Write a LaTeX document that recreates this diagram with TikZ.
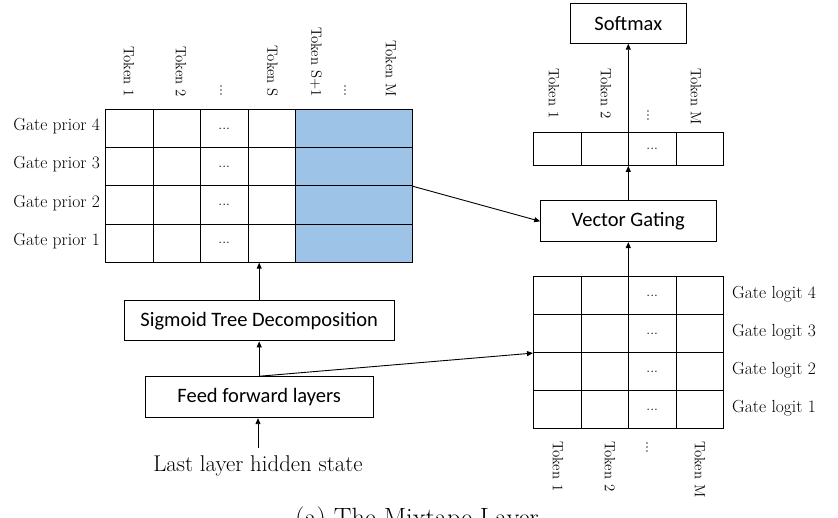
\documentclass[tikz,border=0pt]{standalone}
\usepackage{fontspec}
\newfontfamily\carl{Carlito}
\usetikzlibrary{arrows.meta}
\definecolor{cellblue}{RGB}{157,195,230}
\begin{document}
\begin{tikzpicture}[x=1pt,y=-1pt,
  ln/.style={line width=0.9pt},
  cell/.style={draw, ln, fill=white, inner sep=0, minimum width=47.5pt, anchor=north west},
  bcell/.style={draw, ln, fill=cellblue, inner sep=0, minimum width=117pt, minimum height=38.2pt, anchor=north west},
  box/.style={draw, ln, inner sep=0, font=\carl\fontsize{20.5}{24}\selectfont},
  tokup/.style={rotate=-90, anchor=east, inner sep=0, font=\fontsize{14.8}{16}\selectfont},
  tokdn/.style={rotate=-90, anchor=west, inner sep=0, font=\fontsize{14.8}{16}\selectfont},
  glab/.style={inner sep=0, font=\fontsize{17.5}{19}\selectfont},
  cdots/.style={inner sep=0, font=\fontsize{14}{16}\selectfont},
  arr/.style={ln, -{Triangle[length=6pt,width=5pt]}}
]
\useasboundingbox (0,0) rectangle (838,518);
\clip (0,0) rectangle (838,518);

% token labels above left grid
\node[tokup] (lt1) at (129,97) {Token 1};
\node[tokup] (lt2) at (181,97) {Token 2};
\node[tokup] (ltd1) at (221,97) {...};
\node[tokup] (lts) at (272.5,97) {Token S};
\node[tokup] (lts1) at (316,97) {Token S+1};
\node[tokup] (ltd2) at (345,97) {...};
\node[tokup] (ltm) at (391,97) {Token M};

% token labels above vector
\node[tokdn] (vt1) at (554,68) {Token 1};
\node[tokdn] (vt2) at (606,68) {Token 2};
\node[tokup] (vtd) at (648,122) {...};
\node[tokdn] (vtm) at (696,68) {Token M};

% token labels below right grid
\node[tokdn] (rt1) at (558,441) {Token 1};
\node[tokdn] (rt2) at (610,441) {Token 2};
\node[tokdn] (rtd) at (647,441) {...};
\node[tokdn] (rtm) at (700,441) {Token M};

% left grid
\foreach \r in {1,...,4} {
  \pgfmathtruncatemacro\n{5-\r}
  \foreach \c in {1,...,4} {
    \node[cell, minimum height=38.2pt] (L\r\c) at ({105+47.5*(\c-1)}, {109+38.2*(\r-1)}) {};
  }
  \node[bcell] (B\r) at (295, {109+38.2*(\r-1)}) {};
  \node[cdots] (Ld\r) at (L\r3) {...};
  \node[glab, anchor=east] (Lg\r) at (100, {128.3+38.2*(\r-1)-2}) {Gate prior \n};
}

% right grid
\foreach \r in {1,...,4} {
  \pgfmathtruncatemacro\n{5-\r}
  \foreach \c in {1,...,4} {
    \node[cell, minimum height=38.1pt] (R\r\c) at ({533+47.5*(\c-1)}, {276+38.1*(\r-1)}) {};
  }
  \node[cdots] (Rd\r) at (R\r3) {...};
  \node[glab, anchor=west] (Rg\r) at (732, {295+38.1*(\r-1)-1}) {Gate logit \n};
}

% vector
\foreach \c in {1,...,4} {
  \node[cell, minimum height=32.7pt] (V\c) at ({533+47.5*(\c-1)}, 132.3) {};
}
\node[cdots] (Vd) at (V3) {...};

% boxes
\node[box, minimum width=116.7pt, minimum height=40pt] (sm) at (628.3,23.3) {Softmax};
\node[box, minimum width=175.3pt, minimum height=40.7pt] (vg) at (628.3,221.3) {Vector Gating};
\node[box, minimum width=270.3pt, minimum height=40.3pt] (sig) at (259.2,320.8) {Sigmoid Tree Decomposition};
\node[box, minimum width=228.3pt, minimum height=41pt] (ff) at (259.2,397.2) {Feed forward layers};
\node[anchor=base, inner xsep=0, inner ysep=8pt, font=\fontsize{22.8}{26}\selectfont] (hid) at (258,471.7) {Last layer hidden state};
\node[anchor=base west, inner sep=0, font=\fontsize{26.4}{30}\selectfont] (cap) at (295,526) {(a) The Mixtape Layer};

% arrows
\draw[arr] (hid.north) -- (hid.north |- ff.south);
\draw[arr] (ff.north) -- (sig.south);
\draw[arr] (sig.north) -- (sig.north |- L44.south);
\draw[arr] (ff.north) -- (R21.south west);
\draw[arr] (B2.south east) -- (vg.west);
\draw[arr] (vg.south |- R13.north) -- (vg.south);
\draw[arr] (vg.north) -- (vg.north |- V3.south);
\draw[arr] (sm.south |- V3.north) -- (sm.south);
\end{tikzpicture}
\end{document}
